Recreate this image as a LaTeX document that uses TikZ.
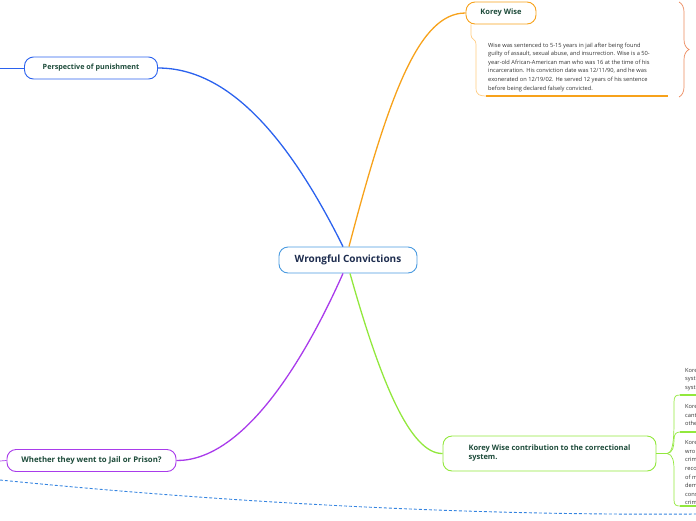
\documentclass[tikz,border=0pt]{standalone}
\usepackage{fontspec}
\setmainfont{Open Sans}
\usetikzlibrary{positioning, decorations.pathreplacing}
\definecolor{textgreen}{HTML}{1D4B3A}
\definecolor{navy}{HTML}{1E2D4F}
\definecolor{notegray}{HTML}{333333}
\definecolor{rootblue}{HTML}{4A9BE0}
\definecolor{branchblue}{HTML}{2B62EE}
\definecolor{branchorange}{HTML}{F7A21B}
\definecolor{paleorange}{HTML}{FFCB80}
\definecolor{bracecolor}{HTML}{EC8A5E}
\definecolor{branchpurple}{HTML}{A93BEB}
\definecolor{branchgreen}{HTML}{92E83D}
\definecolor{linkblue}{HTML}{3584E0}

\begin{document}
\begin{tikzpicture}[x=1pt, y=-1pt,
    root/.style={rectangle, rounded corners=9pt, draw=rootblue, line width=0.9pt, fill=white, minimum width=138pt, minimum height=26pt, font=\fontsize{10}{12}\selectfont\bfseries, text=navy},
    topic/.style={rectangle, rounded corners=9pt, line width=0.9pt, fill=white, minimum height=22pt, font=\fontsize{7.5}{9}\selectfont\bfseries, text=textgreen},
    note/.style={font=\fontsize{5.7}{8.6}\selectfont, text=notegray, align=left, inner sep=0pt, anchor=north west},
    branch/.style={line width=1.3pt},
    twig/.style={line width=0.7pt},
    underline/.style={line width=1.5pt}
]
\useasboundingbox (0,0) rectangle (696,520);

% Central topic and the four main branches
\node[root] (wrongful) at (348,260) {Wrongful Convictions};
\node[topic, draw=branchblue, minimum width=133pt, font=\fontsize{7.2}{9}\selectfont\bfseries] (punish) at (91,68) {Perspective of punishment};
\node[topic, draw=branchorange, minimum width=70pt] (korey) at (501,13) {Korey Wise};
\node[topic, draw=branchpurple, minimum width=169pt, font=\fontsize{7.8}{9}\selectfont\bfseries] (jail) at (91.5,460.5) {Whether they went to Jail or Prison?};
\node[topic, draw=branchgreen, minimum width=213pt, minimum height=35pt, align=left] (contrib) at (549.5,453.5) {Korey Wise contribution to the correctional\\system.};

\draw[branch, branchblue] ([xshift=-5pt]wrongful.north) .. controls (290,140) and (230,68) .. (punish.east);
\draw[branch, branchorange] ([xshift=1pt]wrongful.north) .. controls (390,90) and (420,13) .. (korey.west);
\draw[branch, branchpurple] ([xshift=-5pt]wrongful.south) .. controls (300,370) and (240,461) .. (jail.east);
\draw[branch, branchgreen] ([xshift=2pt]wrongful.south) .. controls (380,380) and (410,454) .. (contrib.west);

% Stubs running off the left edge
\coordinate (punishstub) at (0,68);
\coordinate (jailstub) at (0,461);
\draw[twig, branchblue] (punishstub) -- (punish.west);
\draw[twig, branchpurple] (jailstub) -- (jail.west);

% Korey Wise details
\node[note] (koreynote) at (488,42.5) {Wise was sentenced to 5-15 years in jail after being found\\guilty of assault, sexual abuse, and insurrection. Wise is a 50-\\year-old African-American man who was 16 at the time of his\\incarceration. His conviction date was 12/11/90, and he was\\exonerated on 12/19/02. He served 12 years of his sentence\\before being declared falsely convicted.};
\coordinate (notestart) at (486,96);
\coordinate (noteend) at (668,96);
\draw[twig, paleorange] ([xshift=-30pt]korey.south) -- (471,35) .. controls (471,40) and (476,38) .. (476,45) -- (476,88) .. controls (476,95) and (480,96) .. (notestart);
\draw[underline, branchorange] (notestart) -- (noteend);
\coordinate (bracetop) at (679,2);
\coordinate (bracebottom) at (679,97);
\draw[bracecolor, line width=0.7pt, decorate, decoration={brace, amplitude=10pt}] (bracetop) -- (bracebottom);

% Contribution details (cut by the right edge)
\coordinate (fork) at (667,453.5);
\coordinate (sysline) at (680,395);
\coordinate (cantline) at (680,432);
\coordinate (wrongline) at (680,506);
\draw[line width=1pt, branchgreen] (contrib.east) -- (fork);
\draw[twig, branchgreen] (fork) .. controls (673,453) and (674,440) .. (674,420) -- (674,402) .. controls (674,396) and (676,395) .. (sysline);
\draw[twig, branchgreen] (fork) .. controls (673,453) and (674,446) .. (674,440) .. controls (674,434) and (676,432) .. (cantline);
\draw[twig, branchgreen] (fork) .. controls (673,454) and (674,462) .. (674,470) -- (674,500) .. controls (674,505) and (676,506) .. (wrongline);
\draw[underline, branchgreen] (sysline) -- ++(16,0);
\draw[underline, branchgreen] (cantline) -- ++(16,0);
\draw[underline, branchgreen] (wrongline) -- ++(16,0);
\node[note] (sysnote) at (685,368) {Kore\\syst\\syst};
\node[note] (cantnote) at (685,404.5) {Kore\\cant\\othe};
\node[note] (wrongnote) at (685,440.5) {Kore\\wro\\crim\\reco\\of m\\dem\\cons\\crim};

% Relationship line
\coordinate (linkstart) at (0,480);
\coordinate (linkend) at (696,514);
\draw[linkblue, line width=0.9pt, dash pattern=on 3pt off 2pt] (linkstart) .. controls (200,500) and (450,516) .. (linkend);

\end{tikzpicture}
\end{document}
